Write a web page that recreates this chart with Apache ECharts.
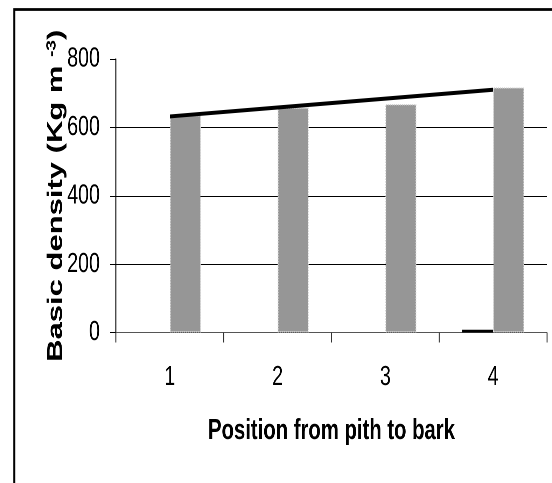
<!DOCTYPE html>
<html><head><meta charset="utf-8">
<script src="https://cdn.jsdelivr.net/npm/echarts@6/dist/echarts.min.js"></script>
<style>
html,body{margin:0;padding:0;background:#fff;overflow:hidden;width:552px;height:483px}
/* the reference is a horizontally squeezed picture: draw wide, then squeeze */
#c{width:789px;height:483px;transform:scaleX(0.7);transform-origin:0 0}
</style>
</head><body><div id="c"></div>
<script>
const categories = ['1', '2', '3', '4'];
const greyBarValues = [636, 658, 668, 717];
const blackBarValues = [0, 0, 0, 8];
const trendLineValues = [632, 658, 684, 710];
const yMin = 0, yMax = 800, yStep = 200;
const xTitle = 'Position from pith to bark';
const yTitleMain = 'Basic density (Kg m';
const yTitleSup = '-3';

const font = '"Liberation Sans", Arial, sans-serif';
const chart = echarts.init(document.getElementById('c'), null, {renderer: 'canvas', devicePixelRatio: 2});
chart.setOption({
  animation: false,
  backgroundColor: '#fff',
  graphic: [{
    type: 'rect', left: 18, top: 7, z: 100,
    shape: {width: 800, height: 500},
    style: {fill: 'none', stroke: '#000', lineWidth: 2.8}
  }],
  grid: {left: 165.7, right: 7.6, top: 59, bottom: 150.5, containLabel: false},
  xAxis: {
    type: 'category', data: categories,
    axisLine: {lineStyle: {color: '#555', width: 1}},
    axisTick: {show: true, length: 10, lineStyle: {color: '#333', width: 1.4}},
    axisLabel: {color: '#000', fontFamily: font, fontSize: 28, margin: 31},
    name: xTitle, nameLocation: 'middle', nameGap: 84, nameMoveOverlap: false,
    nameTextStyle: {color: '#000', fontFamily: font, fontWeight: 'bold', fontSize: 29}
  },
  yAxis: {
    type: 'value', min: yMin, max: yMax, interval: yStep,
    axisLine: {show: true, lineStyle: {color: '#000', width: 1.4}},
    axisTick: {show: true, length: 8.5, lineStyle: {color: '#000'}},
    axisLabel: {color: '#000', fontFamily: font, fontSize: 28, margin: 23},
    splitLine: {show: true, lineStyle: {color: ['#000', '#000', '#000', '#000', 'rgba(0,0,0,0)'], width: 1}},
    name: yTitleMain + ' {sup|' + yTitleSup + '})',
    nameLocation: 'middle', nameRotate: 90, nameGap: 70, nameMoveOverlap: false,
    nameTextStyle: {
      color: '#000', fontFamily: font, fontWeight: 'bold', fontSize: 31,
      rich: {sup: {fontFamily: font, fontWeight: 'bold', fontSize: 19, verticalAlign: 'top', padding: [0, 0, 12, 0]}}
    }
  },
  series: [{
    type: 'bar', data: blackBarValues, barWidth: 44.3, barGap: '0%',
    itemStyle: {color: '#000'}, z: 2
  }, {
    type: 'bar', data: greyBarValues, barWidth: 44.3, barGap: '0%',
    itemStyle: {color: '#969696', borderColor: '#cfcfcf', borderWidth: 1.4, borderType: 'dotted'}, z: 2
  }, {
    type: 'line', data: trendLineValues, showSymbol: false, symbol: 'none',
    lineStyle: {color: '#000', width: 4}, z: 5
  }]
});
</script></body></html>
